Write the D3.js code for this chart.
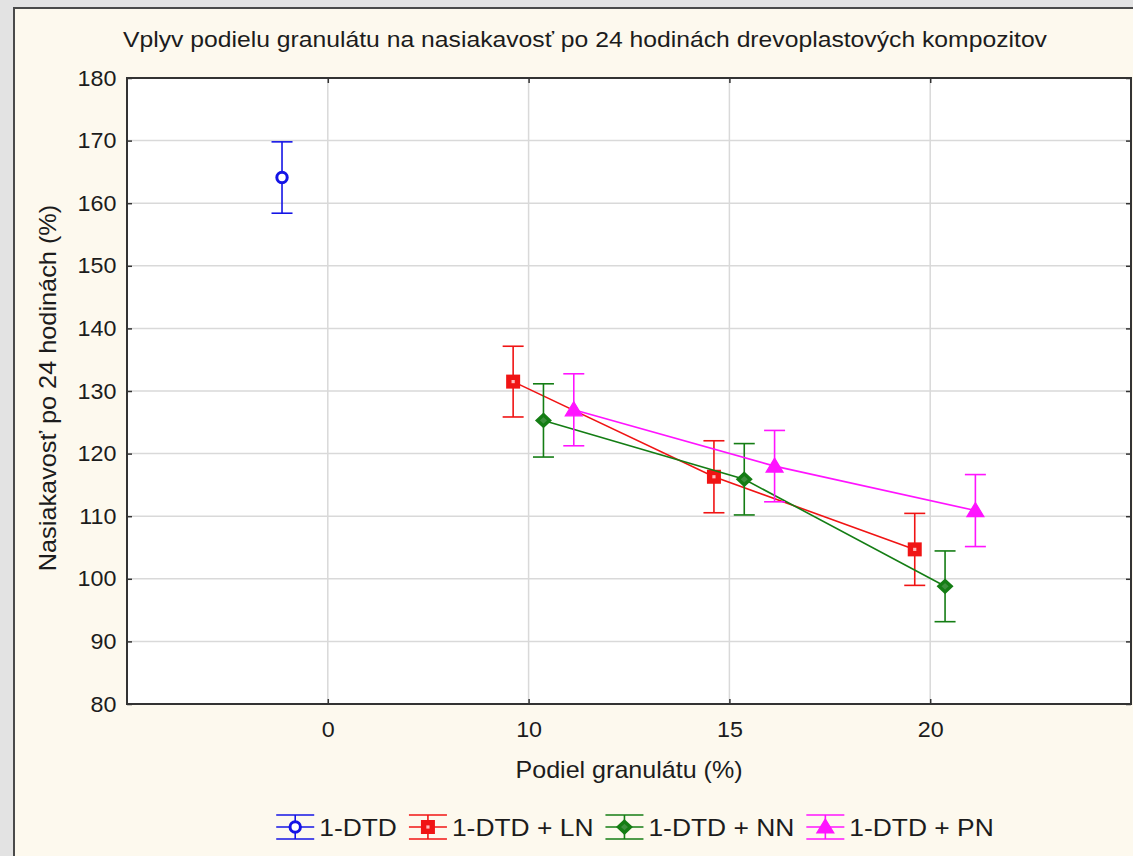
<!DOCTYPE html>
<html>
<head>
<meta charset="utf-8">
<script src="https://cdn.jsdelivr.net/npm/d3@7/dist/d3.min.js"></script>
<style>
  html, body { margin: 0; padding: 0; background: #e2e2e2; }
  svg { display: block; }
  text { font-family: "Liberation Sans", Arial, sans-serif; fill: #1c1c1c; }
</style>
</head>
<body>
<svg id="chart" width="1133" height="856"></svg>
<script>
// ---------------- data ----------------
const title = "Vplyv podielu granulátu na nasiakavosť po 24 hodinách drevoplastových kompozitov";
const xTitle = "Podiel granulátu (%)";
const yTitle = "Nasiakavosť po 24 hodinách (%)";
const xCategories = ["0", "10", "15", "20"];
const yTicks = [80, 90, 100, 110, 120, 130, 140, 150, 160, 170, 180];
const seriesNames = ["1-DTD", "1-DTD + LN", "1-DTD + NN", "1-DTD + PN"];
const seriesColors = ["#1414e6", "#f01414", "#147d14", "#ff14ff"];
const seriesSymbols = ["circle", "square", "diamond", "triangle"];
// x category of each point, mean, half-width of error bar
const dtdX = ["0"];
const dtdMean = [164.1];
const dtdErr = [5.7];
const lnX = ["10", "15", "20"];
const lnMean = [131.5, 116.3, 104.7];
const lnErr = [5.65, 5.75, 5.75];
const nnX = ["10", "15", "20"];
const nnMean = [125.3, 115.9, 98.8];
const nnErr = [5.85, 5.7, 5.65];
const pnX = ["10", "15", "20"];
const pnMean = [127.0, 118.0, 110.9];
const pnErr = [5.75, 5.7, 5.75];

const seriesData = [
  { x: dtdX, m: dtdMean, e: dtdErr, line: false },
  { x: lnX, m: lnMean, e: lnErr, line: true },
  { x: nnX, m: nnMean, e: nnErr, line: true },
  { x: pnX, m: pnMean, e: pnErr, line: true }
].map((s, i) => ({
  name: seriesNames[i], color: seriesColors[i], symbol: seriesSymbols[i], line: s.line,
  points: s.x.map((x, j) => ({ x, mean: s.m[j], err: s.e[j] }))
}));

// ---------------- layout ----------------
const svg = d3.select("#chart");
const W = 1133, H = 856;
const plot = { left: 127, right: 1131, top: 78, bottom: 704 };

// outer background and panel
svg.append("rect").attr("x", 0).attr("y", 0).attr("width", W).attr("height", H).attr("fill", "#e3e3e3");
svg.append("rect").attr("x", 14).attr("y", 8).attr("width", W + 10).attr("height", H + 10)
  .attr("fill", "#fdf9ee").attr("stroke", "#4a4a4a").attr("stroke-width", 2);

const x = d3.scalePoint().domain(xCategories).range([plot.left, plot.right]).padding(1);
const step = x.step();
const offset = d3.scalePoint().domain(seriesNames).range([-0.228 * step, 0.225 * step]);
const y = d3.scaleLinear().domain([80, 180]).range([plot.bottom, plot.top]);

// stretched text helper
function label(parent, str, tx, ty, size, sx, anchor, rot) {
  const g = parent.append("text")
    .attr("transform", `translate(${tx},${ty})${rot ? ` rotate(${rot})` : ""} scale(${sx},1)`)
    .attr("font-size", size).attr("text-anchor", anchor || "start").text(str);
  return g;
}

// plot background
svg.append("rect").attr("x", plot.left).attr("y", plot.top)
  .attr("width", plot.right - plot.left).attr("height", plot.bottom - plot.top).attr("fill", "#ffffff");

// grid
const grid = svg.append("g");
grid.selectAll("line.h").data(yTicks.slice(1, -1)).join("line")
  .attr("x1", plot.left).attr("x2", plot.right)
  .attr("y1", d => y(d)).attr("y2", d => y(d))
  .attr("stroke", "#d9d9d9").attr("stroke-width", 1.5);
grid.selectAll("line.v").data(xCategories).join("line")
  .attr("x1", d => x(d)).attr("x2", d => x(d))
  .attr("y1", plot.top).attr("y2", plot.bottom)
  .attr("stroke", "#d9d9d9").attr("stroke-width", 1.5);

// axes (ticks inside)
const tickLen = 5, tickFont = 22, tickSx = 1.06;
const axL = d3.axisLeft(y).tickValues(yTicks).tickSize(-tickLen).tickFormat(d3.format("d")).tickPadding(10);
const axR = d3.axisRight(y).tickValues(yTicks).tickSize(-tickLen).tickFormat("");
const axB = d3.axisBottom(x).tickSize(-tickLen).tickPadding(17);
const axT = d3.axisTop(x).tickSize(-tickLen).tickFormat("");

function styleAxis(g) {
  g.select(".domain").remove();
  g.selectAll(".tick line").attr("stroke", "#333").attr("stroke-width", 1.5);
  g.selectAll(".tick text").attr("font-size", tickFont).attr("fill", "#1c1c1c")
    .attr("font-family", "Liberation Sans, Arial, sans-serif")
    .attr("transform", `scale(${tickSx},1)`);
}
svg.append("g").attr("transform", `translate(${plot.left},0)`).call(axL).call(styleAxis);
svg.append("g").attr("transform", `translate(${plot.right},0)`).call(axR).call(styleAxis);
const gB = svg.append("g").attr("transform", `translate(0,${plot.bottom})`).call(axB).call(styleAxis);
// keep bottom labels centred on their ticks after stretching
gB.selectAll(".tick text").attr("transform", null).each(function () {
  d3.select(this).attr("transform", `scale(${tickSx},1)`).attr("x", 0);
});
svg.append("g").attr("transform", `translate(0,${plot.top})`).call(axT).call(styleAxis);

// plot frame
svg.append("rect").attr("x", plot.left).attr("y", plot.top)
  .attr("width", plot.right - plot.left).attr("height", plot.bottom - plot.top)
  .attr("fill", "none").attr("stroke", "#333").attr("stroke-width", 2);

// titles
label(svg, title, 585, 47, 23, 1.075, "middle");
label(svg, xTitle, (plot.left + plot.right) / 2, 778, 23, 1.09, "middle");
label(svg, yTitle, 56, 388, 23, 1.1, "middle", -90);

// symbols
function drawSymbol(g, type, color) {
  if (type === "circle") {
    g.append("circle").attr("r", 5.2).attr("fill", "#fff").attr("stroke", color).attr("stroke-width", 3);
  } else if (type === "square") {
    g.append("rect").attr("x", -4.3).attr("y", -4.3).attr("width", 8.6).attr("height", 8.6)
      .attr("fill", "#fbb").attr("stroke", color).attr("stroke-width", 5.4);
  } else if (type === "diamond") {
    g.append("path").attr("d", "M0,-5.6L6,0L0,5.6L-6,0Z")
      .attr("fill", "#3d8f3d").attr("stroke", color).attr("stroke-width", 3.4).attr("stroke-linejoin", "miter");
  } else if (type === "triangle") {
    g.append("path").attr("d", "M0,-8L8.5,6L-8.5,6Z").attr("fill", color).attr("stroke", color).attr("stroke-width", 1.2);
  }
}

const px = (s, p) => x(p.x) + offset(s.name);
const capHalf = 10.5;

const series = svg.append("g").selectAll("g").data(seriesData).join("g");
series.each(function (s) {
  const g = d3.select(this);
  if (s.line) {
    g.append("path").datum(s.points)
      .attr("d", d3.line().x(p => px(s, p)).y(p => y(p.mean)))
      .attr("fill", "none").attr("stroke", s.color).attr("stroke-width", 1.6);
  }
  const pts = g.selectAll("g.pt").data(s.points).join("g")
    .attr("transform", p => `translate(${px(s, p)},0)`);
  pts.append("line").attr("x1", 0).attr("x2", 0)
    .attr("y1", p => y(p.mean + p.err)).attr("y2", p => y(p.mean - p.err))
    .attr("stroke", s.color).attr("stroke-width", 1.6);
  pts.append("line").attr("x1", -capHalf).attr("x2", capHalf)
    .attr("y1", p => y(p.mean + p.err)).attr("y2", p => y(p.mean + p.err))
    .attr("stroke", s.color).attr("stroke-width", 1.6);
  pts.append("line").attr("x1", -capHalf).attr("x2", capHalf)
    .attr("y1", p => y(p.mean - p.err)).attr("y2", p => y(p.mean - p.err))
    .attr("stroke", s.color).attr("stroke-width", 1.6);
  pts.each(function (p) {
    const m = d3.select(this).append("g").attr("transform", `translate(0,${y(p.mean)})`);
    drawSymbol(m, s.symbol, s.color);
  });
});

// legend
const legend = svg.append("g");
const symW = 38, gapSym = 5, gapItem = 12, legY = 827, legFont = 24, legSx = 1.1;
const items = seriesData.map(s => {
  const t = label(legend, s.name, 0, legY + 9, legFont, legSx, "start");
  return { s, t, w: t.node().getComputedTextLength() * legSx };
});
const total = d3.sum(items, d => symW + gapSym + d.w) + gapItem * (items.length - 1);
let cx = 635 - total / 2;
items.forEach(it => {
  const g = legend.append("g").attr("transform", `translate(${cx + symW / 2},${legY})`);
  [-12, 0, 12].forEach(dy => {
    g.append("line").attr("x1", -symW / 2).attr("x2", symW / 2).attr("y1", dy).attr("y2", dy)
      .attr("stroke", it.s.color).attr("stroke-width", 1.6);
  });
  g.append("line").attr("x1", 0).attr("x2", 0).attr("y1", -12).attr("y2", 12).attr("stroke", it.s.color).attr("stroke-width", 1.6);
  drawSymbol(g, it.s.symbol, it.s.color);
  it.t.attr("transform", `translate(${cx + symW + gapSym},${legY + 9}) scale(${legSx},1)`);
  cx += symW + gapSym + it.w + gapItem;
});
</script>
</body>
</html>
